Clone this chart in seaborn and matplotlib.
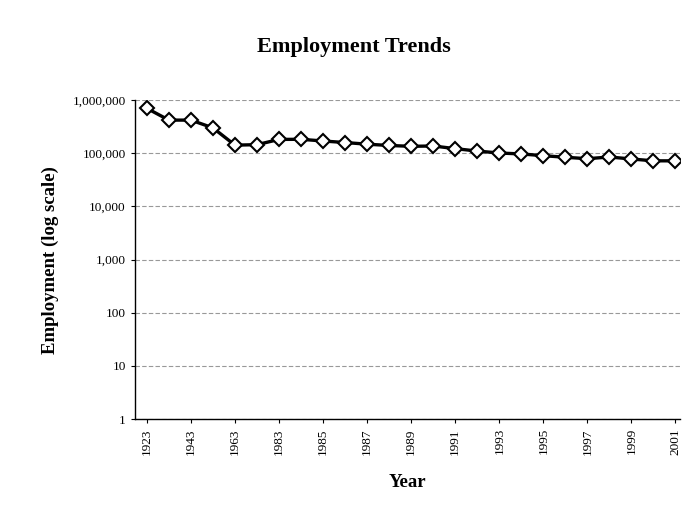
import numpy as np
import pandas as pd
import seaborn as sns
import matplotlib.pyplot as plt
from matplotlib.ticker import FuncFormatter, FixedLocator

# data
years = ["1923", "1933", "1943", "1953", "1963", "1973", "1983", "1984", "1985",
         "1986", "1987", "1988", "1989", "1990", "1991", "1992", "1993", "1994",
         "1995", "1996", "1997", "1998", "1999", "2000", "2001"]
employment = [700000, 420000, 420000, 300000, 142000, 145000, 182000, 183000, 170000,
              159000, 148000, 140000, 135000, 137000, 122000, 110000, 101000, 97000,
              90000, 84000, 79000, 85000, 78000, 72000, 72000]

df = pd.DataFrame({"pos": np.arange(len(years)), "Year": years, "Employment": employment})

sns.set_style("white")
plt.rcParams["font.family"] = ["Liberation Serif", "DejaVu Serif"]
plt.rcParams["text.color"] = "black"
plt.rcParams["axes.labelcolor"] = "black"
plt.rcParams["xtick.color"] = "black"
plt.rcParams["ytick.color"] = "black"

fig = plt.figure(figsize=(6.84, 5.08), dpi=100)
ax = fig.add_axes([0.197, 0.175, 0.797, 0.628])

sns.lineplot(data=df, x="pos", y="Employment", ax=ax, color="black", linewidth=2.4,
             marker="D", markersize=7.5, markerfacecolor="white",
             markeredgecolor="black", markeredgewidth=1.5)

ax.set_yscale("log")
ax.set_ylim(1, 1000000)
ax.yaxis.set_major_locator(FixedLocator([1, 10, 100, 1000, 10000, 100000, 1000000]))
ax.yaxis.set_minor_locator(FixedLocator([]))
ax.yaxis.set_major_formatter(FuncFormatter(lambda v, p: f"{int(round(v)):,}"))
ax.grid(axis="y", color="#999999", linestyle=(0, (4, 2)), linewidth=0.8)

ax.set_xlim(-0.55, 24.2)
ax.set_xticks(df["pos"][::2])
ax.set_xticklabels(df["Year"][::2], rotation=90)
ax.tick_params(axis="both", labelsize=9.5, length=3, direction="out", color="black")
ax.tick_params(axis="x", bottom=True)
ax.tick_params(axis="y", left=True)

for side in ["top", "right"]:
    ax.spines[side].set_visible(False)
for side in ["left", "bottom"]:
    ax.spines[side].set_color("black")
    ax.spines[side].set_linewidth(1.0)

ax.set_xlabel("Year", fontsize=13.5, fontweight="bold", labelpad=14)
ax.set_ylabel("Employment (log scale)", fontsize=13.5, fontweight="bold", labelpad=10)
fig.text(0.517, 0.908, "Employment Trends", ha="center", va="center",
         fontsize=16, fontweight="bold")

fig.savefig("out.png", dpi=100)
